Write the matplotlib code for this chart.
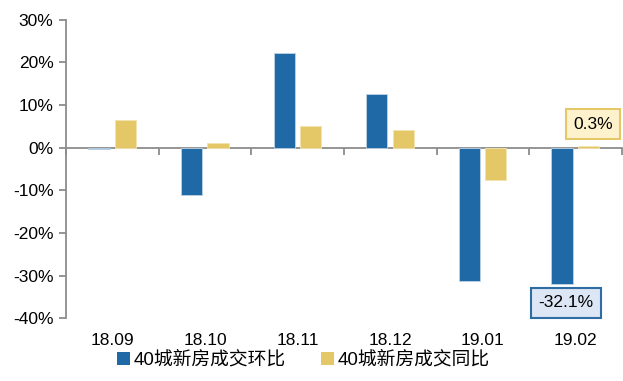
import matplotlib
matplotlib.use("Agg")
import matplotlib.pyplot as plt
import matplotlib.transforms as mtransforms
from matplotlib.patches import Patch
import numpy as np

categories = ["18.09", "18.10", "18.11", "18.12", "19.01", "19.02"]
mom = [-0.3, -11.0, 22.3, 12.7, -31.2, -32.1]   # 40城新房成交环比 (%)
yoy = [6.6, 1.0, 5.2, 4.2, -7.5, 0.3]           # 40城新房成交同比 (%)
yticks = [30, 20, 10, 0, -10, -20, -30, -40]
series_names = ["40城新房成交环比", "40城新房成交同比"]

BLUE = "#1F69A6"
GOLD = "#E4C766"
AXIS = "#8C8C8C"
FONT = ["Liberation Sans", "Noto Sans CJK SC", "DejaVu Sans"]
plt.rcParams["font.family"] = FONT

fig = plt.figure(figsize=(6.23, 3.81), dpi=100)
ax = fig.add_axes([0.106, 0.165, 0.892, 0.783])

x = np.arange(len(categories))
w = 0.23
ax.bar(x - 0.145, mom, width=w, color=BLUE, edgecolor="#BFD3E6", linewidth=0.6, zorder=3)
ax.bar(x + 0.14, yoy, width=w, color=GOLD, edgecolor="#F2E3B0", linewidth=0.6, zorder=3)

ax.set_xlim(-0.5, len(categories) - 0.5)
ax.set_ylim(-40, 30)
ax.set_yticks(yticks)
ax.set_yticklabels([f"{v}%" for v in yticks], fontsize=12.5)

for s in ["top", "right"]:
    ax.spines[s].set_visible(False)
ax.spines["left"].set_color(AXIS)
ax.spines["left"].set_linewidth(1.3)
ax.spines["bottom"].set_position(("data", 0))
ax.spines["bottom"].set_color(AXIS)
ax.spines["bottom"].set_linewidth(1.3)
ax.tick_params(axis="y", direction="out", length=5, color=AXIS, width=1.3, pad=4)
ax.set_xticks(np.arange(len(categories) + 1) - 0.5)
ax.set_xticklabels([])
ax.tick_params(axis="x", direction="out", length=5, color=AXIS, width=1.3)

trans = mtransforms.blended_transform_factory(ax.transData, ax.transAxes)
for xi, lab in zip(x, categories):
    ax.text(xi, -0.075, lab, transform=trans, ha="center", va="center", fontsize=12.5)

# value callouts for the latest month
last = len(categories) - 1
ax.annotate(f"{yoy[last]:.1f}%", xy=(last + 0.14, yoy[last]), xytext=(last + 0.19, 5.5),
            ha="center", va="center", fontsize=12.5,
            bbox=dict(boxstyle="square,pad=0.42", fc="#FDF2CC", ec="#E4C766", lw=1.5))
ax.annotate(f"{mom[last]:.1f}%", xy=(last - 0.145, mom[last]), xytext=(last - 0.1, -36.4),
            ha="center", va="center", fontsize=12.5,
            bbox=dict(boxstyle="square,pad=0.42", fc="#DCE6F4", ec="#2E6DA4", lw=1.5))

handles = [Patch(facecolor=BLUE), Patch(facecolor=GOLD)]
fig.legend(handles, series_names, loc="center", bbox_to_anchor=(0.487, 0.055), ncol=2,
           frameon=False, fontsize=13.5, handlelength=0.7, handleheight=0.7,
           handletextpad=0.2, columnspacing=1.9)

fig.savefig("out.png", dpi=100)
